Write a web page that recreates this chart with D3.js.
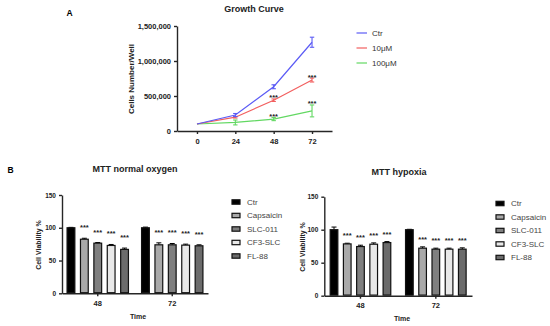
<!DOCTYPE html>
<html><head><meta charset="utf-8">
<script src="https://cdn.jsdelivr.net/npm/d3@7"></script>
<style>body{margin:0;background:#fff}svg{display:block;font-family:"Liberation Sans",Arial,sans-serif}</style>
</head><body><svg id="c" width="550" height="326"></svg>
<script>
// ---- Growth curve data ----
const hours = [0, 24, 48, 72];
const hourTicks = [0, 24, 48, 72];
const growthSeries = ["Ctr", "10\u03bcM", "100\u03bcM"];
const ctrMean = [100000, 228000, 632000, 1268000];
const ctrErr = [5000, 22000, 28000, 72000];
const uM10Mean = [100000, 197000, 440000, 728000];
const uM10Err = [5000, 12000, 18000, 28000];
const uM100Mean = [100000, 122000, 170000, 287000];
const uM100Err = [5000, 35000, 22000, 85000];
const uM10Sig = [false, false, true, true];
const uM100Sig = [false, false, true, true];
const growthTicks = [0, 500000, 1000000, 1500000];

// ---- MTT data ----
const timeGroups = ["48", "72"];
const treatments = ["Ctr", "Capsaicin", "SLC-011", "CF3-SLC", "FL-88"];
const normoxia48 = [100, 82.5, 76.5, 73, 67];
const normoxia72 = [100, 74, 74, 73.5, 72.5];
const normoxia48Err = [0.6, 1.5, 1, 1.5, 2];
const normoxia72Err = [1, 3, 2, 1.5, 1.5];
const hypoxia48 = [100, 78.5, 74.5, 78, 80.5];
const hypoxia72 = [100, 72, 70.5, 70.5, 70.5];
const hypoxia48Err = [4, 1, 2, 2, 1.5];
const hypoxia72Err = [0.6, 2, 1.5, 1.5, 2];
const mttSig = [false, true, true, true, true];
const mttTicks = [0, 50, 100, 150];

const svg = d3.select("#c");
const axisColor = "#262626";
const fmt = d3.format(",");

// ================= Panel A =================
svg.append("text").attr("x", 66.5).attr("y", 15.5).attr("font-size", 8.5).attr("font-weight", "bold").text("A");
svg.append("text").attr("x", 254).attr("y", 11.5).attr("text-anchor", "middle").attr("font-size", 9).attr("font-weight", "bold").attr("fill", "#222").text("Growth Curve");

const xA = d3.scaleLinear().domain([-12.5, 84.5]).range([177, 332]);
const yA = d3.scaleLinear().domain([0, 1500000]).range([131, 26]);

const gA = svg.append("g");
const axA_y = gA.append("g").attr("transform", `translate(${xA.range()[0]},0)`)
  .call(d3.axisLeft(yA).tickValues(growthTicks).tickFormat(fmt).tickSize(3).tickSizeOuter(0));
const axA_x = gA.append("g").attr("transform", `translate(0,${yA(0)})`)
  .call(d3.axisBottom(xA).tickValues(hourTicks).tickFormat(d => d).tickSize(3).tickSizeOuter(0));
[axA_y, axA_x].forEach(a => {
  a.selectAll("path,line").attr("stroke", axisColor).attr("stroke-width", 1.4);
  a.selectAll("text").attr("font-size", 7.5).attr("font-weight", "bold").attr("fill", "#222").attr("font-family", "Liberation Sans, Arial, sans-serif");
});
axA_x.selectAll("text").attr("dy", "0.9em");
svg.append("text").attr("transform", `translate(134,79) rotate(-90)`).attr("text-anchor", "middle")
  .attr("font-size", 8).attr("font-weight", "bold").attr("fill", "#222").text("Cells Number/Well");

const growth = [
  {name: growthSeries[0], mean: ctrMean, err: ctrErr, sig: null, color: "#5b5bf5"},
  {name: growthSeries[1], mean: uM10Mean, err: uM10Err, sig: uM10Sig, color: "#f25f5f"},
  {name: growthSeries[2], mean: uM100Mean, err: uM100Err, sig: uM100Sig, color: "#62d862"}
];
const line = d3.line().x(d => xA(d.h)).y(d => yA(d.v));
growth.slice().reverse().forEach(s => {
  const pts = hours.map((h, i) => ({h, v: s.mean[i], e: s.err[i]}));
  gA.append("path").datum(pts).attr("d", line).attr("fill", "none").attr("stroke", s.color).attr("stroke-width", 1.2);
  const eb = gA.selectAll(null).data(pts.filter(p => p.h > 0)).enter().append("g").attr("stroke", s.color).attr("stroke-width", 1.1);
  eb.append("line").attr("x1", d => xA(d.h)).attr("x2", d => xA(d.h)).attr("y1", d => yA(d.v - d.e)).attr("y2", d => yA(d.v + d.e));
  eb.append("line").attr("x1", d => xA(d.h) - 2.2).attr("x2", d => xA(d.h) + 2.2).attr("y1", d => yA(d.v - d.e)).attr("y2", d => yA(d.v - d.e));
  eb.append("line").attr("x1", d => xA(d.h) - 2.2).attr("x2", d => xA(d.h) + 2.2).attr("y1", d => yA(d.v + d.e)).attr("y2", d => yA(d.v + d.e));
  if (s.sig) {
    gA.selectAll(null).data(pts.filter((p, i) => s.sig[i])).enter().append("text")
      .attr("x", d => xA(d.h)).attr("y", d => yA(d.v + d.e) + 1.5).attr("text-anchor", "middle")
      .attr("font-size", 7.5).attr("font-weight", "bold").attr("fill", "#222").text("***");
  }
});
// legend A
growth.forEach((s, i) => {
  const y = 33 + i * 15;
  svg.append("line").attr("x1", 356.5).attr("x2", 367).attr("y1", y).attr("y2", y).attr("stroke", s.color).attr("stroke-width", 1.2);
  svg.append("text").attr("x", 372).attr("y", y).attr("dy", "0.35em").attr("font-size", 8).attr("fill", "#333").text(s.name);
});

// ================= Panel B =================
svg.append("text").attr("x", 7.5).attr("y", 173).attr("font-size", 8.5).attr("font-weight", "bold").text("B");
const fills = ["#000000", "#a9a9a9", "#7f7f7f", "#e8e8e8", "#6b6b6b"];

function mttPanel(opt) {
  const g = svg.append("g");
  const y = d3.scaleLinear().domain([0, 150]).range(opt.yr);
  const x0 = d3.scaleBand().domain(timeGroups).range(opt.xr).paddingInner(opt.pi).paddingOuter(opt.po);
  const x1 = d3.scaleBand().domain(treatments).range([0, x0.bandwidth()]).paddingInner(0.33).paddingOuter(0);
  g.append("text").attr("x", opt.titleX).attr("y", opt.titleY).attr("text-anchor", "middle").attr("font-size", 9)
    .attr("font-weight", "bold").attr("fill", "#222").text(opt.title);
  const ay = g.append("g").attr("transform", `translate(${opt.xr[0]},0)`)
    .call(d3.axisLeft(y).tickValues(mttTicks).tickSize(3).tickSizeOuter(0));
  const ax = g.append("g").attr("transform", `translate(0,${opt.yr[0]})`)
    .call(d3.axisBottom(x0).tickSize(3).tickSizeOuter(0));
  [ay, ax].forEach(a => {
    a.selectAll("path,line").attr("stroke", axisColor).attr("stroke-width", 1.4);
    a.selectAll("text").attr("font-weight", "bold").attr("fill", "#222").attr("font-family", "Liberation Sans, Arial, sans-serif");
  });
  ay.selectAll("text").attr("font-size", 6.5);
  ax.selectAll("text").attr("font-size", 7.5).attr("dy", "0.85em");
  g.append("text").attr("transform", `translate(${opt.ylabX},${opt.ylabY}) rotate(-90)`).attr("text-anchor", "middle")
    .attr("font-size", 7).attr("font-weight", "bold").attr("fill", "#222").text("Cell Viability %");
  g.append("text").attr("x", opt.timeX).attr("y", opt.timeY).attr("text-anchor", "middle")
    .attr("font-size", 7).attr("font-weight", "bold").attr("fill", "#222").text("Time");

  const data = [];
  timeGroups.forEach((t, gi) => treatments.forEach((tr, i) => {
    data.push({t, tr, i, v: opt.vals[gi][i], e: opt.errs[gi][i]});
  }));
  const bars = g.selectAll(null).data(data).enter().append("g")
    .attr("transform", d => `translate(${x0(d.t) + x1(d.tr)},0)`);
  const bw = x1.bandwidth();
  bars.append("line").attr("x1", bw / 2).attr("x2", bw / 2).attr("y1", d => y(d.v)).attr("y2", d => y(d.v + d.e))
    .attr("stroke", "#000").attr("stroke-width", 1);
  bars.append("line").attr("x1", bw / 2 - 2.5).attr("x2", bw / 2 + 2.5).attr("y1", d => y(d.v + d.e)).attr("y2", d => y(d.v + d.e))
    .attr("stroke", "#000").attr("stroke-width", 1);
  bars.append("rect").attr("x", 0.6).attr("width", bw - 1.2).attr("y", d => y(d.v)).attr("height", d => y(0) - y(d.v) - 0.6)
    .attr("fill", d => fills[d.i]).attr("stroke", "#111").attr("stroke-width", 1.2);
  bars.filter(d => mttSig[d.i]).append("text").attr("x", bw / 2).attr("y", d => y(d.v + d.e) - opt.starGap)
    .attr("text-anchor", "middle").attr("font-size", 7.5).attr("font-weight", "bold").attr("fill", "#222").text("***");

  treatments.forEach((tr, i) => {
    const ly = opt.legY + i * 13.5;
    g.append("rect").attr("x", opt.legX).attr("y", ly - 2.2).attr("width", 8).attr("height", 4.4)
      .attr("fill", fills[i]).attr("stroke", "#111").attr("stroke-width", 1.2);
    g.append("text").attr("x", opt.legX + 15).attr("y", ly).attr("dy", "0.35em").attr("font-size", 8).attr("fill", "#444").text(tr);
  });
}

mttPanel({title: "MTT normal oxygen", titleX: 135, titleY: 171.5, yr: [293.3, 195], xr: [62, 208], pi: 0.16, po: 0.06,
  vals: [normoxia48, normoxia72], errs: [normoxia48Err, normoxia72Err], starGap: 8,
  ylabX: 40.5, ylabY: 245, timeX: 138, timeY: 319, legX: 232, legY: 202});
mttPanel({title: "MTT hypoxia", titleX: 399, titleY: 174.5, yr: [295.7, 196.7], xr: [324.3, 472], pi: 0.18, po: 0.07,
  vals: [hypoxia48, hypoxia72], errs: [hypoxia48Err, hypoxia72Err], starGap: 5,
  ylabX: 304.5, ylabY: 247, timeX: 402, timeY: 321, legX: 496, legY: 203.5});
</script></body></html>
